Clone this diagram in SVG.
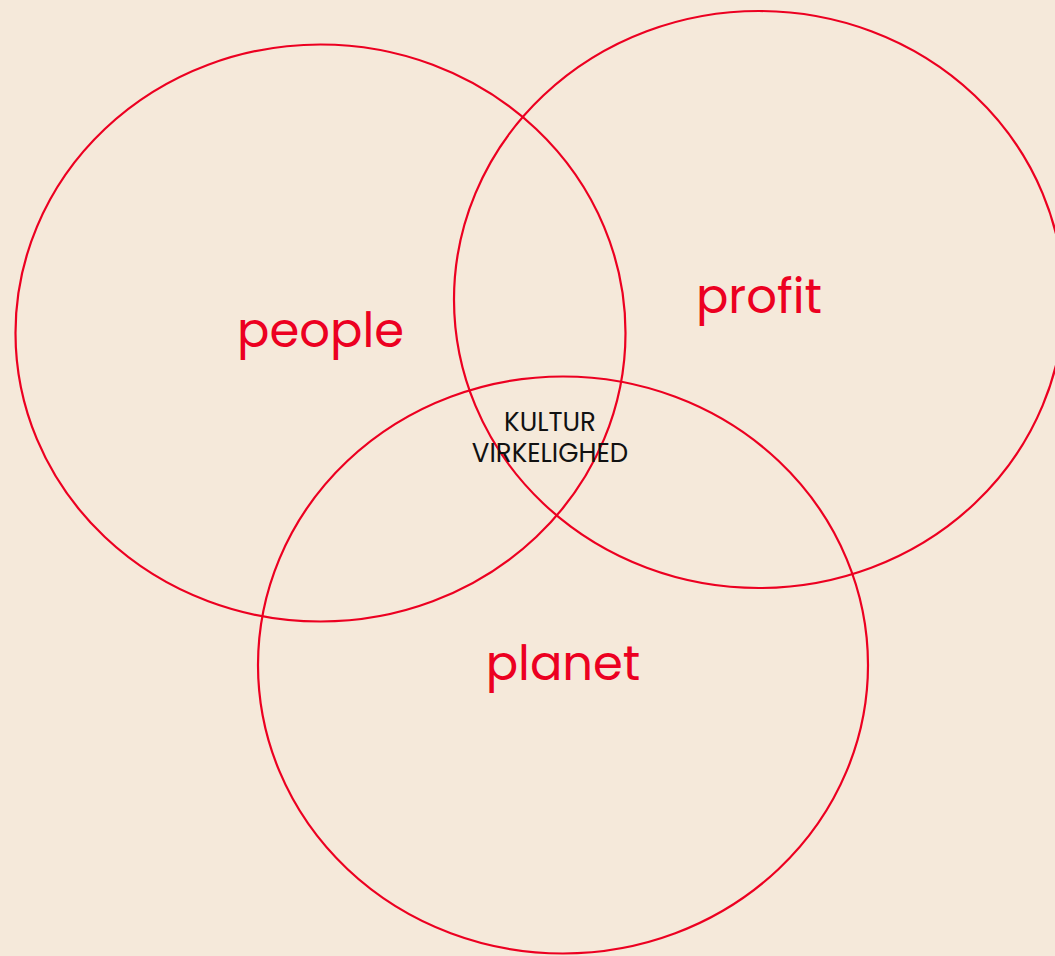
<svg xmlns="http://www.w3.org/2000/svg" width="1055" height="956" viewBox="0 0 1055 956">
<style>
.c{fill:none;stroke:#EC0021;stroke-width:2.2}
.big{font-family:Poppins,Inter,"Noto Sans",sans-serif;font-size:48px;fill:#EC0021;text-anchor:middle}
.small{font-family:Poppins,Inter,"Noto Sans",sans-serif;font-size:26px;fill:#111;text-anchor:middle}
</style>
<rect width="1055" height="956" fill="#F5E9DA"/>
<g id="people">
<ellipse class="c" cx="320.5" cy="333" rx="305" ry="288.5"/>
<text class="big" x="320.5" y="347">people</text>
</g>
<g id="profit">
<ellipse class="c" cx="759" cy="299.5" rx="305" ry="288.5"/>
<text class="big" x="759" y="313">profit</text>
</g>
<g id="planet">
<ellipse class="c" cx="563" cy="665" rx="305" ry="288.5"/>
<text class="big" x="563" y="680">planet</text>
</g>
<g id="center">
<text class="small" x="550" y="431">KULTUR</text>
<text class="small" x="550" y="462">VIRKELIGHED</text>
</g>
<g id="connectors"/>
</svg>
